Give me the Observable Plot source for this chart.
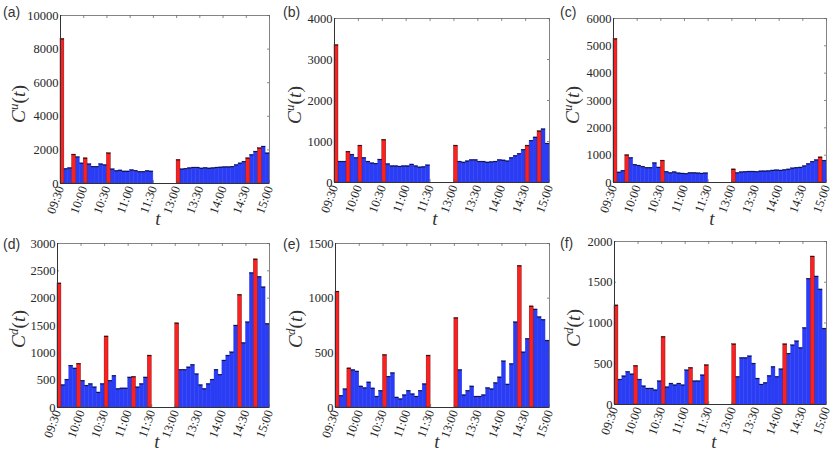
<!DOCTYPE html>
<html><head><meta charset="utf-8">
<script src="https://cdn.jsdelivr.net/npm/d3@7"></script>
<script src="https://cdn.jsdelivr.net/npm/@observablehq/plot@0.6"></script>
<style>
body{margin:0;background:#fff;}
#wrap{position:relative;width:837px;height:454px;background:#fff;overflow:hidden;}
.panel{position:absolute;}
</style></head><body><div id="wrap"></div>
<script>
// tick labels (time of day); lunch break 11:30-13:00 is compressed
const tickLabels = ["09:30","10:00","10:30","11:00","11:30","13:00","13:30","14:00","14:30","15:00"];

// 5-minute counts, morning session 09:30-11:30 and afternoon 13:00-15:00
const aMorning   = [8600,870,920,1720,1570,1200,1500,1150,1000,1000,1150,1100,1800,850,750,780,720,720,800,760,700,700,750,720];
const aAfternoon = [1400,850,880,920,950,950,900,930,900,920,950,960,980,980,1000,1100,1200,1300,1500,1700,1900,2100,2200,1800];
const aRedMorning = [0,3,6,12];
const aRedAfternoon = [0,18,21];

const bMorning   = [3350,510,510,750,680,600,900,600,510,470,460,560,1040,450,400,400,390,400,400,440,400,370,380,420];
const bAfternoon = [900,510,490,520,550,550,510,510,490,500,510,550,540,520,600,650,700,800,900,1020,1100,1250,1300,950];
const bRedMorning = [0,3,6,12];
const bRedAfternoon = [0,18,21];

const cMorning   = [5250,370,430,1000,900,650,620,580,540,540,710,550,800,390,350,380,340,330,320,350,350,340,330,340];
const cAfternoon = [480,350,380,390,400,400,390,410,410,420,440,450,440,460,480,520,540,550,600,680,760,820,920,800];
const cRedMorning = [0,3,12];
const cRedAfternoon = [0,22];

const dMorning   = [2270,410,510,765,715,800,490,400,430,370,275,430,1300,490,580,340,350,350,550,560,370,430,550,950];
const dAfternoon = [1540,690,690,735,780,610,410,340,430,510,690,600,860,950,1010,1500,2060,1180,1560,2460,2710,2390,2200,1530];
const dRedMorning = [0,5,12,19,23];
const dRedAfternoon = [0,16,20];

const eMorning   = [1060,107,168,358,343,330,193,178,230,175,100,153,480,282,315,92,77,113,153,122,100,153,214,475];
const eAfternoon = [818,343,113,153,193,100,100,113,178,168,224,276,423,211,398,780,1295,505,628,925,897,827,802,612];
const eRedMorning = [0,3,12,23];
const eRedAfternoon = [0,16,19];

const fMorning   = [1216,306,347,400,371,473,306,224,196,196,176,286,829,212,257,237,257,237,420,449,286,286,359,482];
const fAfternoon = [739,339,571,571,592,502,318,245,265,351,461,339,433,739,624,727,776,694,939,1543,1816,1571,1412,931];
const fRedMorning = [0,5,12,19,23];
const fRedAfternoon = [0,13,20];

const panelNames = ["(a)","(b)","(c)","(d)","(e)","(f)"];
const panelSup = ["u","u","u","d","d","d"];
const yMaxes = [10000,4000,6000,3000,1500,2000];
const ySteps = [2000,1000,1000,500,500,500];

const series = [
  [aMorning,aAfternoon,aRedMorning,aRedAfternoon],
  [bMorning,bAfternoon,bRedMorning,bRedAfternoon],
  [cMorning,cAfternoon,cRedMorning,cRedAfternoon],
  [dMorning,dAfternoon,dRedMorning,dRedAfternoon],
  [eMorning,eAfternoon,eRedMorning,eRedAfternoon],
  [fMorning,fAfternoon,fRedMorning,fRedAfternoon]
];

// layout (presentation only)
const layouts = [
  {left:0,   top:0,   ml:60, mr:10, mt:15, mb:44, ylx:25, yly:104, tx:158, ty:225, px:3, py:17},
  {left:279, top:0,   ml:55, mr:9,  mt:18, mb:45, ylx:22, yly:105, tx:156, ty:225, px:4, py:17},
  {left:558, top:0,   ml:55, mr:11, mt:18, mb:45, ylx:21, yly:105, tx:154, ty:225, px:2, py:17},
  {left:0,   top:227, ml:57, mr:10, mt:16, mb:47, ylx:25, yly:102, tx:157, ty:221, px:3, py:22},
  {left:279, top:227, ml:56, mr:9,  mt:16, mb:47, ylx:23, yly:102, tx:158, ty:221, px:4, py:22},
  {left:558, top:227, ml:56, mr:11, mt:14, mb:50, ylx:22, yly:101, tx:156, ty:221, px:2, py:21}
];

// compressed time -> 5-minute slot index (lunch break occupies 6 slots)
function slotOfTime(label) {
  const [h, m] = label.split(":").map(Number);
  const mins = h * 60 + m;
  return mins <= 690 ? (mins - 570) / 5 : 30 + (mins - 780) / 5;
}
const xTicks = tickLabels.map(slotOfTime);
const BLUE = "#2b3df4", RED = "#ff1f1f";

const wrap = document.getElementById("wrap");

series.forEach((s, k) => {
  const [morning, afternoon, redM, redA] = s;
  const L = layouts[k];
  const yMax = yMaxes[k];
  const bars = [];
  morning.forEach((v, i) => bars.push({s: i, v, red: redM.includes(i)}));
  afternoon.forEach((v, i) => bars.push({s: 30 + i, v, red: redA.includes(i)}));
  const yTicks = d3.range(0, yMax + 1, ySteps[k]);
  const chart = Plot.plot({
    width: 279, height: 227,
    marginLeft: L.ml, marginRight: L.mr, marginTop: L.mt, marginBottom: L.mb,
    x: {domain: [0, 54], ticks: xTicks, tickFormat: d => tickLabels[xTicks.indexOf(d)], tickRotate: -70, tickSize: 0, tickPadding: 3, label: null},
    y: {domain: [0, yMax], ticks: yTicks, tickFormat: d3.format("d"), tickSize: 0, tickPadding: 2, label: null},
    style: {fontFamily: "Liberation Serif", fontSize: "12.5px", color: "#262626", background: "white", overflow: "visible"},
    marks: [
      Plot.rect(bars.filter(d => !d.red), {x1: "s", x2: d => d.s + 1, y1: 0, y2: "v", fill: BLUE, stroke: BLUE, strokeWidth: 0.4, inset: 0}),
      Plot.rect(bars.filter(d => d.red), {x1: "s", x2: d => d.s + 1, y1: 0, y2: "v", fill: RED, stroke: "#551010", strokeWidth: 0.4, inset: 0}),
      Plot.ruleY(bars, {x1: "s", x2: d => d.s + 1, y: "v", stroke: "#111", strokeWidth: 0.9}),
      Plot.ruleX(xTicks, {y1: 0, y2: yMax * 0.018, stroke: "#555", strokeWidth: 0.7}),
      Plot.ruleX(xTicks, {y1: yMax, y2: yMax * 0.982, stroke: "#555", strokeWidth: 0.7}),
      Plot.ruleY(yTicks, {x1: 0, x2: 0.5, stroke: "#555", strokeWidth: 0.7}),
      Plot.ruleY(yTicks, {x1: 54, x2: 53.5, stroke: "#555", strokeWidth: 0.7}),
      Plot.frame({stroke: "#666", strokeWidth: 0.8}),
      Plot.ruleX([0], {stroke: "#333"}),
      Plot.ruleY([0], {stroke: "#333"})
    ]
  });
  const svg = d3.select(chart);
  // y label C^u(t) / C^d(t)
  const t = svg.append("text")
    .attr("transform", `translate(${L.ylx},${L.yly}) rotate(-90)`)
    .attr("text-anchor", "middle").attr("font-family", "Liberation Serif")
    .attr("font-size", 19.5).attr("fill", "#333");
  t.append("tspan").attr("font-style", "italic").text("C");
  t.append("tspan").attr("font-style", "italic").attr("font-size", 13).attr("dy", -7).text(panelSup[k]);
  t.append("tspan").attr("dy", 7).text("(");
  t.append("tspan").attr("font-style", "italic").text("t");
  t.append("tspan").text(")");
  // x label
  svg.append("text").attr("x", L.tx).attr("y", L.ty).attr("text-anchor", "middle")
    .attr("font-family", "Liberation Serif").attr("font-style", "italic")
    .attr("font-size", 19).attr("fill", "#333").text("t");
  // panel label
  svg.append("text").attr("x", L.px).attr("y", L.py).attr("text-anchor", "start")
    .attr("font-family", "Liberation Sans").attr("font-size", 14).attr("fill", "#333").text(panelNames[k]);
  const div = document.createElement("div");
  div.className = "panel";
  div.style.left = L.left + "px";
  div.style.top = L.top + "px";
  div.appendChild(chart);
  wrap.appendChild(div);
});
</script></body></html>
